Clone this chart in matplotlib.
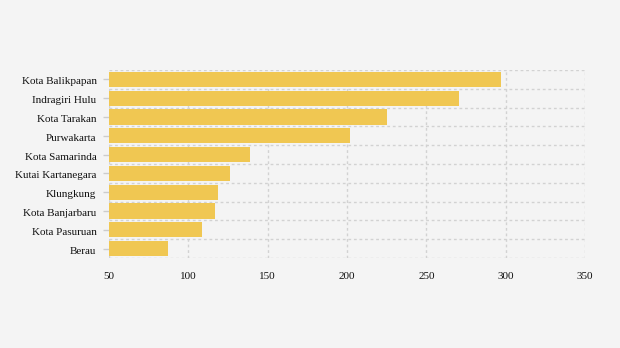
import matplotlib
matplotlib.use("Agg")
import matplotlib.pyplot as plt
import matplotlib.transforms as mtransforms
import numpy as np

regions = ["Kota Balikpapan", "Indragiri Hulu", "Kota Tarakan", "Purwakarta",
           "Kota Samarinda", "Kutai Kartanegara", "Klungkung", "Kota Banjarbaru",
           "Kota Pasuruan", "Berau"]
values = [297, 270.5, 225, 202, 139, 126, 119, 117, 108.6, 87]
x_ticks = [50, 100, 150, 200, 250, 300, 350]

plt.rcParams["font.family"] = ["Liberation Serif", "DejaVu Serif"]

fig = plt.figure(figsize=(6.2, 3.48), dpi=100)
fig.patch.set_facecolor("#f4f4f4")
ax = fig.add_axes([109 / 620, 1 - 258 / 348, 476 / 620, 188 / 348])
ax.set_facecolor("#f4f4f4")

y = np.arange(len(regions))
ax.barh(y, np.array(values) - 50, left=50, height=0.8, color="#f0c752", zorder=2)

ax.set_xlim(50, 350)
ax.set_ylim(len(regions) - 0.5, -0.5)
ax.set_xticks(x_ticks)
ax.set_xticklabels([str(t) for t in x_ticks], fontsize=8, color="#111111")
ax.set_yticks(y)
ax.set_yticklabels(regions, fontsize=8, color="#111111")
ax.set_yticks(np.arange(-0.5, len(regions), 1.0), minor=True)

ax.tick_params(axis="x", length=0, pad=10)
ax.tick_params(axis="y", which="major", length=4, color="#cccccc", width=1, pad=5)
ax.tick_params(axis="y", which="minor", length=0)

# nudge category labels down a little, like the reference
shift = mtransforms.ScaledTranslation(0, -1.5 / 100, fig.dpi_scale_trans)
for lbl in ax.get_yticklabels():
    lbl.set_transform(lbl.get_transform() + shift)

ax.grid(axis="x", which="major", color="#d2d2d2", linestyle=(0, (2, 2)), linewidth=1, zorder=0)
ax.grid(axis="y", which="minor", color="#d2d2d2", linestyle=(0, (2, 2)), linewidth=1, zorder=0)
ax.grid(axis="y", which="major", visible=False)

for s in ax.spines.values():
    s.set_visible(False)

fig.savefig("out.png", dpi=100, facecolor=fig.get_facecolor())
